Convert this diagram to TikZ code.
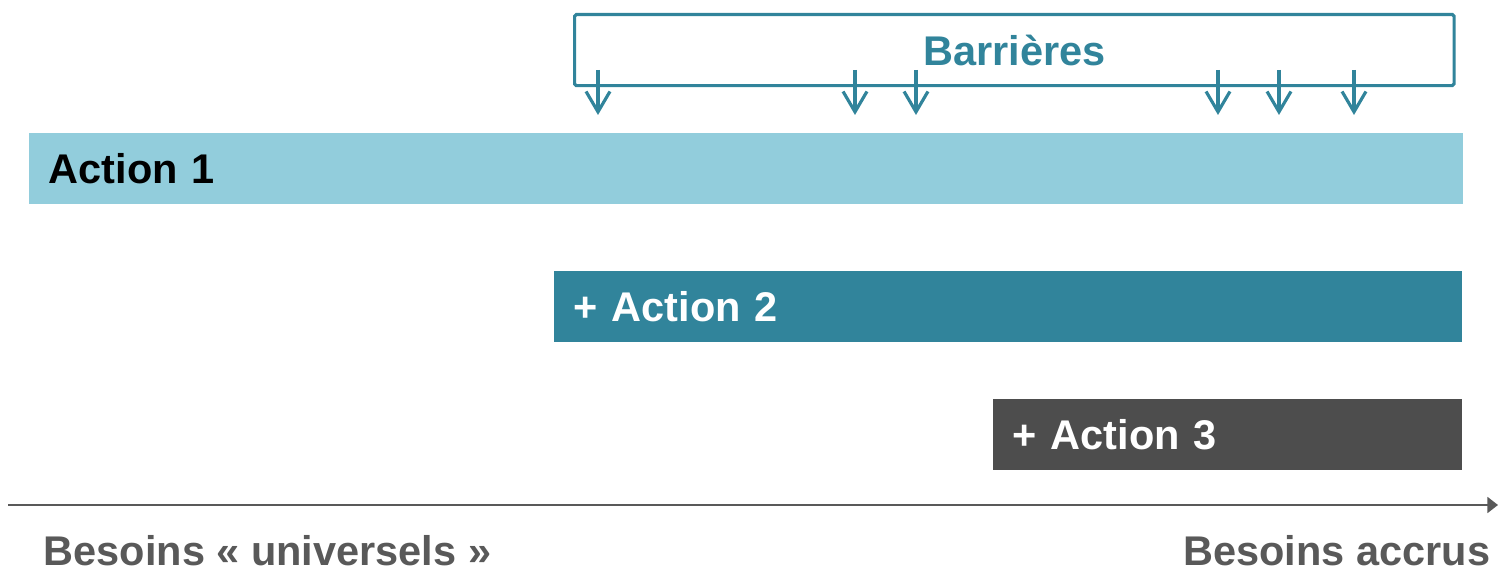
\documentclass[tikz,border=0pt]{standalone}
\usepackage{fontspec}
\setmainfont{Liberation Sans}
\usepackage{xcolor}
\usetikzlibrary{arrows.meta, positioning}
\definecolor{bluScuro}{HTML}{31849B}
\definecolor{bluChiaro}{HTML}{92CDDC}
\definecolor{grigioScuro}{HTML}{4D4D4D}
\definecolor{grigioAsse}{HTML}{595959}
\newcommand{\carattere}{\fontsize{11.8}{14}\selectfont\bfseries}

\begin{document}
\begin{tikzpicture}[x = 0.01cm, y = -0.01cm,
    barra/.style = {rectangle, anchor = north west, inner xsep = 0.2cm, inner ysep = 0pt,
      minimum height = 0.71cm, text width = #1, align = left, font = \carattere},
    freccia/.style = {draw = bluScuro, line width = 0.9pt, -{Straight Barb[length = 5.8pt, width = 6.8pt]}},
    etichetta/.style = {text = grigioAsse, font = \carattere, inner sep = 0pt}]
    % Cornice
    \useasboundingbox (0,0) rectangle (1499,570);
    % Barriere
    \node[draw = bluScuro, line width = 0.9pt, rounded corners = 0.5pt, anchor = north west,
      minimum width = 8.79cm, minimum height = 0.71cm, text = bluScuro, font = \carattere]
      (barriere) at (573,13) {Barrières};
    \foreach \xf [count = \i] in {598, 855, 916, 1218, 1279, 1354}{
      \coordinate (su\i) at (\xf,70);
      \coordinate (giu\i) at (\xf,115);
      \draw[freccia] (su\i) -- (giu\i);
    }
    % Azioni
    \node[barra = 13.93cm, fill = bluChiaro, text = black] (azione1) at (28,132) {Action 1};
    \node[barra = 8.68cm, fill = bluScuro, text = white] (azione2) at (553,270) {+ Action 2};
    \node[barra = 4.29cm, fill = grigioScuro, text = white] (azione3) at (992,398) {+ Action 3};
    % Asse
    \coordinate (inizio) at (8,505);
    \coordinate (fine) at (1498,505);
    \draw[grigioAsse, line width = 0.6pt, -{Triangle[length = 3pt, width = 4.5pt]}] (inizio) -- (fine);
    \node[etichetta, anchor = base west] (universali) at (43,565) {Besoins « universels »};
    \node[etichetta, anchor = base east] (accresciuti) at (1491,565) {Besoins accrus};
\end{tikzpicture}
\end{document}
